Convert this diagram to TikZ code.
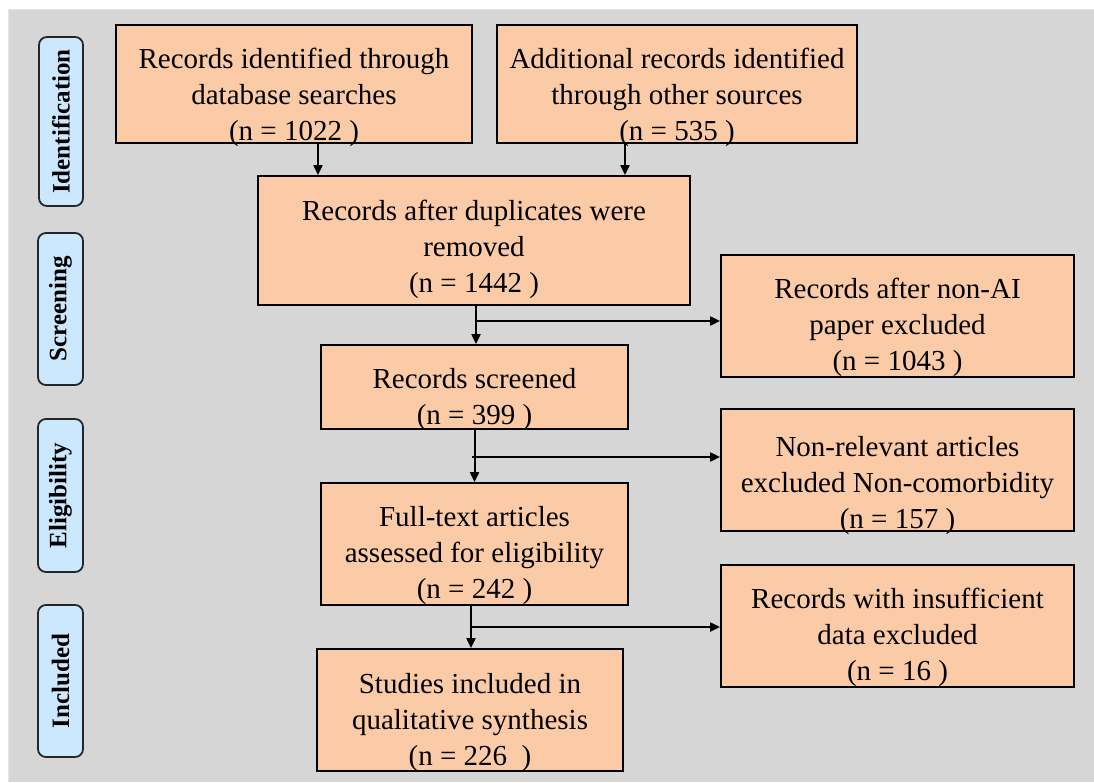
\documentclass[tikz,border=0pt]{standalone}
\usepackage{fontspec}
\setmainfont{Liberation Serif}
\usetikzlibrary{arrows.meta,calc}
\definecolor{bggray}{HTML}{D6D6D6}
\definecolor{peach}{HTML}{FBCBA8}
\definecolor{lblue}{HTML}{CCE8FF}
\tikzset{
  flowbox/.style={draw=black, line width=1.8pt, fill=peach, align=center,
    inner sep=0pt, font=\fontsize{29}{36}\selectfont},
  phase/.style={draw=black!85, line width=1.8pt, fill=lblue, rounded corners=8pt,
    rotate=90, inner sep=0pt, font=\fontsize{25}{30}\selectfont\bfseries},
  arr/.style={line width=2pt, -{Triangle[length=10pt,width=9pt]}},
  ln/.style={line width=2pt}
}
\newcommand{\boxtext}[2]{\raisebox{#1}[\height][\depth]{\begin{tabular}{@{}c@{}}#2\end{tabular}}}
\begin{document}
\begin{tikzpicture}[x=1pt,y=-1pt]
\useasboundingbox (0,0) rectangle (1094,782);
\fill[white] (0,0) rectangle (1094,782);
\fill[bggray] (8,9) rectangle (1094,782);
\draw[black!10, line width=1pt] (8,782) -- (8,9) -- (1094,9);

% phase labels
\node[phase, minimum width=169pt, minimum height=44pt] (pid) at (61,121.5) {Identification};
\node[phase, minimum width=152pt, minimum height=45pt] (psc) at (60.5,309) {Screening};
\node[phase, minimum width=153pt, minimum height=45pt] (pel) at (60.5,495.5) {Eligibility};
\node[phase, minimum width=152pt, minimum height=45pt] (pin) at (60.5,681) {Included};

% boxes
\node[flowbox, minimum width=356pt, minimum height=118pt] (b1) at (294,84)
  {\boxtext{-13pt}{Records identified through\\database searches\\(n = 1022 )}};
\node[flowbox, minimum width=360pt, minimum height=118pt] (b2) at (677,84)
  {\boxtext{-13pt}{Additional records identified\\through other sources\\(n = 535 )}};
\node[flowbox, minimum width=432pt, minimum height=129pt] (b3) at (474,240.5)
  {\boxtext{-8.5pt}{Records after duplicates were\\removed\\(n = 1442 )}};
\node[flowbox, minimum width=353pt, minimum height=122pt] (b4) at (897.5,316)
  {\boxtext{-11pt}{Records after non-AI\\paper excluded\\(n = 1043 )}};
\node[flowbox, minimum width=307pt, minimum height=84pt] (b5) at (474.5,387)
  {\boxtext{-12pt}{Records screened\\(n = 399 )}};
\node[flowbox, minimum width=353pt, minimum height=122pt] (b6) at (897.5,470)
  {\boxtext{-15pt}{Non-relevant articles\\excluded Non-comorbidity\\(n = 157 )}};
\node[flowbox, minimum width=307pt, minimum height=122pt] (b7) at (474.5,544)
  {\boxtext{-11pt}{Full-text articles\\assessed for eligibility\\(n = 242 )}};
\node[flowbox, minimum width=353pt, minimum height=122pt] (b8) at (897.5,626)
  {\boxtext{-11pt}{Records with insufficient\\data excluded\\(n = 16 )}};
\node[flowbox, minimum width=306pt, minimum height=122pt] (b9) at (470,710)
  {\boxtext{-12pt}{Studies included in\\qualitative synthesis\\(n = 226~ )}};

% connectors
\draw[arr] ([xshift=24pt]b1.south) -- ([xshift=24pt]b1.south |- b3.north);
\draw[arr] ([xshift=-52pt]b2.south) -- ([xshift=-52pt]b2.south |- b3.north);

\draw[arr] ([xshift=2pt]b3.south) -- ([xshift=2pt]b3.south |- b5.north);
\coordinate (j1) at ([xshift=1pt]b3.south |- 0,321);
\draw[arr] (j1) -- (j1 -| b4.west);

\draw[arr] (b5.south) -- (b5.south |- b7.north);
\coordinate (j2) at ([xshift=-3pt]b5.south |- 0,457);
\draw[arr] (j2) -- (j2 -| b6.west);

\draw[arr] ([xshift=-3.5pt]b7.south) -- ([xshift=-3.5pt]b7.south |- b9.north);
\coordinate (j3) at ([xshift=-3.5pt]b7.south |- 0,627);
\draw[arr] (j3) -- (j3 -| b8.west);
\end{tikzpicture}
\end{document}
